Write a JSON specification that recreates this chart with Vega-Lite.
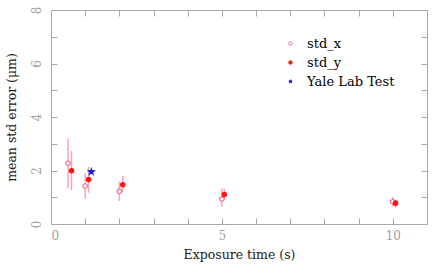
{
  "$schema": "https://vega.github.io/schema/vega-lite/v6.json",
  "width": 376,
  "height": 214,
  "autosize": {"type": "none"},
  "padding": {"left": 51, "top": 10, "right": 9, "bottom": 51},
  "background": "white",
  "config": {
    "view": {"stroke": "#a8a8a8", "strokeWidth": 1},
    "font": "DejaVu Serif",
    "axis": {
      "domain": false,
      "grid": false,
      "tickColor": "#a8a8a8",
      "tickSize": -6,
      "labelFont": "DejaVu Serif",
      "labelColor": "#a0a0a0",
      "labelFontSize": 12,
      "titleFont": "DejaVu Serif",
      "titleFontWeight": "normal",
      "titleColor": "#222222",
      "titleFontSize": 12.5
    }
  },
  "data": {
    "values": [
      {"s": "std_x", "t": 0.5, "v": 2.27, "lo": 1.33, "hi": 3.2},
      {"s": "std_x", "t": 1.0, "v": 1.42, "lo": 0.93, "hi": 1.9},
      {"s": "std_x", "t": 2.0, "v": 1.22, "lo": 0.86, "hi": 1.58},
      {"s": "std_x", "t": 5.0, "v": 0.93, "lo": 0.65, "hi": 1.33},
      {"s": "std_x", "t": 10.0, "v": 0.83, "lo": 0.65, "hi": 1.02},
      {"s": "std_y", "t": 0.6, "v": 1.99, "lo": 1.27, "hi": 2.73},
      {"s": "std_y", "t": 1.1, "v": 1.66, "lo": 1.17, "hi": 2.14},
      {"s": "std_y", "t": 2.1, "v": 1.47, "lo": 1.2, "hi": 1.79},
      {"s": "std_y", "t": 5.07, "v": 1.1, "lo": 0.93, "hi": 1.33},
      {"s": "std_y", "t": 10.08, "v": 0.78, "lo": 0.62, "hi": 0.92},
      {"s": "Yale Lab Test", "t": 1.18, "v": 1.95}
    ]
  },
  "resolve": {"axis": {"x": "independent", "y": "independent"}},
  "layer": [
    {
      "transform": [{"filter": "datum.lo != null"}],
      "mark": {"type": "rule", "strokeWidth": 1.5, "color": "#f5a7b8"},
      "encoding": {
        "x": {
          "field": "t", "type": "quantitative",
          "scale": {"domain": [0, 11], "nice": false},
          "axis": {
            "values": [0, 1, 2, 3, 4, 5, 6, 7, 8, 9, 10, 11],
            "labelExpr": "datum.value % 5 == 0 ? datum.label : ''",
            "title": "Exposure time (s)",
            "labelPadding": 12,
            "titlePadding": 7
          }
        },
        "y": {
          "field": "lo", "type": "quantitative",
          "scale": {"domain": [0, 8], "nice": false},
          "axis": {
            "values": [0, 1, 2, 3, 4, 5, 6, 7, 8],
            "labelExpr": "datum.value % 2 == 0 ? datum.label : ''",
            "labelAngle": -90,
            "labelAlign": "center",
            "labelBaseline": "bottom",
            "title": "mean std error (μm)",
            "labelPadding": 14,
            "titlePadding": 12
          }
        },
        "y2": {"field": "hi"}
      }
    },
    {
      "mark": {"type": "point", "opacity": 1, "strokeWidth": 1.1},
      "encoding": {
        "x": {"field": "t", "type": "quantitative", "axis": null},
        "y": {"field": "v", "type": "quantitative", "axis": null},
        "size": {"condition": {"test": "datum.s == 'Yale Lab Test'", "value": 42}, "value": 20},
        "shape": {
          "field": "s", "type": "nominal",
          "scale": {
            "domain": ["std_x", "std_y", "Yale Lab Test"],
            "range": ["circle", "circle", "M0,-1L0.225,-0.309L0.951,-0.309L0.363,0.118L0.588,0.809L0,0.382L-0.588,0.809L-0.363,0.118L-0.951,-0.309L-0.225,-0.309Z"]
          },
          "legend": {
            "orient": "none",
            "legendX": 233,
            "legendY": 27,
            "title": null,
            "padding": 0,
            "symbolSize": 12,
            "symbolStrokeWidth": 1,
            "labelFont": "DejaVu Serif",
            "labelFontSize": 13,
            "labelOffset": 10,
            "rowPadding": 5,
            "encode": {
              "labels": {"update": {"fill": {"signal": "datum.value == 'Yale Lab Test' ? '#4a80ee' : '#ee1f48'"}}}
            }
          }
        },
        "stroke": {
          "field": "s", "type": "nominal",
          "scale": {"domain": ["std_x", "std_y", "Yale Lab Test"], "range": ["#f06a88", "#ff1414", "#1a1ae0"]}
        },
        "fill": {
          "field": "s", "type": "nominal",
          "scale": {"domain": ["std_x", "std_y", "Yale Lab Test"], "range": ["#ffffff", "#ff1414", "#1a1ae0"]}
        }
      }
    },
    {
      "mark": {"type": "point", "opacity": 0},
      "encoding": {
        "x": {
          "field": "t", "type": "quantitative",
          "axis": {"orient": "top", "values": [0, 1, 2, 3, 4, 5, 6, 7, 8, 9, 10, 11], "labels": false, "title": null}
        },
        "y": {
          "field": "v", "type": "quantitative",
          "axis": {"orient": "right", "values": [0, 1, 2, 3, 4, 5, 6, 7, 8], "labels": false, "title": null}
        }
      }
    }
  ]
}
